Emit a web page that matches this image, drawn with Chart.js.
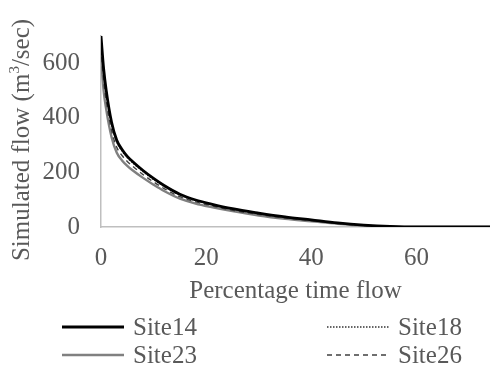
<!DOCTYPE html>
<html><head><meta charset="utf-8">
<script src="https://cdn.jsdelivr.net/npm/chart.js@4/dist/chart.umd.min.js"></script>
<style>html,body{margin:0;padding:0;background:#fff;}#wrap{width:490px;height:373px;position:relative;}</style>
</head><body><div id="wrap"><canvas id="c" width="490" height="373"></canvas></div>
<script>
const percentTime = [0, 0.5, 1, 2, 3, 4, 5, 6, 8, 10, 12, 15, 18, 21, 25, 30, 35, 40, 45, 50, 55, 60, 65, 70, 74];
const site14 = [700, 580, 500, 385, 318, 284, 259, 240, 207, 178, 152, 120, 99, 84, 67, 51, 37, 26, 15, 7, 2, 0, 0, 0, 0];
const site18 = [690, 572, 492, 378, 312, 279, 254, 236, 203, 174, 149, 117, 97, 82, 65, 49, 36, 25, 14, 6, 2, 0, 0, 0, 0];
const site23 = [625, 500, 430, 330, 272, 244, 224, 208, 180, 155, 132, 104, 86, 73, 58, 42, 30, 21, 12, 5, 1, 0, 0, 0, 0];
const site26 = [655, 535, 462, 355, 292, 262, 240, 223, 192, 165, 141, 111, 92, 78, 61, 46, 33, 23, 13, 6, 1, 0, 0, 0, 0];
const seriesNames = ['Site14', 'Site18', 'Site23', 'Site26'];
const xTicks = [0, 20, 40, 60];
const yTicks = [0, 200, 400, 600];

const pts = arr => arr.map((v, i) => ({x: percentTime[i], y: v}));
const FONT = "'Liberation Serif', 'Times New Roman', serif";
const TXT = '#595959';
const FS = 25;

const styles = [
  {borderColor: '#000000', borderWidth: 2.8, borderDash: []},
  {borderColor: '#333333', borderWidth: 1.4, borderDash: [1.5, 1.5]},
  {borderColor: '#808080', borderWidth: 2.4, borderDash: []},
  {borderColor: '#404040', borderWidth: 1.4, borderDash: [5, 4]}
];
const values = [site14, site18, site23, site26];
const datasets = seriesNames.map((n, i) => Object.assign({
  label: n, data: pts(values[i]), pointRadius: 0, fill: false,
  cubicInterpolationMode: 'monotone', order: [0, 1, 3, 2][i]
}, styles[i]));

const customText = {
  id: 'customText',
  afterDraw(chart) {
    const ctx = chart.ctx;
    ctx.save();
    ctx.fillStyle = TXT;
    ctx.font = FS + 'px ' + FONT;
    // y axis title
    ctx.save();
    ctx.translate(22, 140);
    ctx.rotate(-Math.PI / 2);
    ctx.textBaseline = 'middle';
    const main = 'Simulated flow (m', sup = '3', rest = '/sec)';
    const w1 = ctx.measureText(main).width;
    ctx.font = '15px ' + FONT;
    const w2 = ctx.measureText(sup).width;
    ctx.font = FS + 'px ' + FONT;
    const w3 = ctx.measureText(rest).width;
    const tot = w1 + w2 + w3;
    ctx.textAlign = 'left';
    ctx.fillText(main, -tot / 2, 0);
    ctx.font = '15px ' + FONT;
    ctx.fillText(sup, -tot / 2 + w1, -7);
    ctx.font = FS + 'px ' + FONT;
    ctx.fillText(rest, -tot / 2 + w1 + w2, 0);
    ctx.restore();
    // legend
    const cols = [[62, 124, 133], [327, 390, 398]];
    const rows = [327, 355];
    chart.data.datasets.forEach((ds, i) => {
      const c = cols[i % 2], r = rows[Math.floor(i / 2)];
      ctx.save();
      ctx.strokeStyle = ds.borderColor;
      ctx.lineWidth = ds.borderWidth;
      ctx.setLineDash(ds.borderDash || []);
      ctx.beginPath();
      ctx.moveTo(c[0], r);
      ctx.lineTo(c[1], r);
      ctx.stroke();
      ctx.restore();
      ctx.font = FS + 'px ' + FONT;
      ctx.textAlign = 'left';
      ctx.textBaseline = 'middle';
      ctx.fillStyle = TXT;
      ctx.fillText(ds.label, c[2], r + 1);
    });
    ctx.restore();
  }
};

new Chart(document.getElementById('c'), {
  type: 'line',
  data: {datasets},
  options: {
    responsive: false, animation: false,
    layout: {padding: {top: 12, right: 0, bottom: 66, left: 0}},
    plugins: {legend: {display: false}, tooltip: {enabled: false}},
    scales: {
      x: {
        type: 'linear', min: 0, max: 74,
        afterBuildTicks: s => { s.ticks = xTicks.map(v => ({value: v})); },
        afterFit: s => { s.height = 80; },
        grid: {display: false, drawTicks: false},
        border: {display: true, color: '#bfbfbf', width: 1.5},
        ticks: {color: TXT, font: {family: FONT, size: FS}, padding: 16, maxRotation: 0},
        title: {display: true, text: 'Percentage time flow', color: TXT, font: {family: FONT, size: FS}, padding: {top: 0, bottom: 1}}
      },
      y: {
        min: 0, max: 700,
        afterBuildTicks: s => { s.ticks = yTicks.map(v => ({value: v})); },
        afterFit: s => { s.width = 101; },
        grid: {display: false, drawTicks: false},
        border: {display: true, color: '#bfbfbf', width: 1.5},
        ticks: {color: TXT, font: {family: FONT, size: FS}, padding: 21}
      }
    }
  },
  plugins: [customText]
});
</script></body></html>
